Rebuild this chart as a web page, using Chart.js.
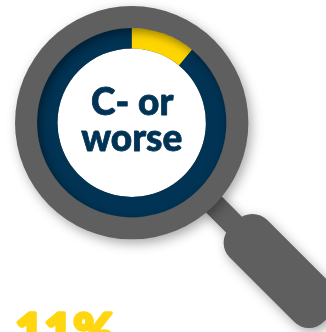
<!DOCTYPE html>
<html>
<head>
<meta charset="utf-8">
<style>
  html, body { margin: 0; padding: 0; background: #fff; overflow: hidden; }
  canvas { display: block; }
</style>
<script src="https://cdn.jsdelivr.net/npm/chart.js@4"></script>
</head>
<body>
<canvas id="gauge" width="326" height="332"></canvas>
<script>
const segments = ['C- or worse', 'Other grades'];
const shares = [11, 89];
const segmentColors = ['#FFD500', '#003354'];
const centerLines = ['C- or', 'worse'];
const headline = '11%';

const GREY = '#5F5F5F';
const NAVY = '#003354';
const YELLOW = '#FFD60F';
const FONT = '"Lato", sans-serif';

function softText(ctx, text, x, y, size, color, grow) {
  ctx.font = `900 ${size}px ${FONT}`;
  ctx.textAlign = 'center';
  ctx.textBaseline = 'alphabetic';
  ctx.lineJoin = 'round';
  ctx.lineWidth = grow;
  ctx.strokeStyle = color;
  ctx.fillStyle = color;
  ctx.strokeText(text, x, y);
  ctx.fillText(text, x, y);
}

const magnifier = {
  id: 'magnifier',
  beforeDatasetsDraw(chart) {
    const { ctx } = chart;
    const arc = chart.getDatasetMeta(0).data[0];
    const cx = arc.x, cy = arc.y, R = arc.outerRadius;
    const rimR = R * 1.232;

    ctx.save();
    ctx.shadowColor = 'rgba(0,0,0,0.34)';
    ctx.shadowBlur = 12;
    ctx.shadowOffsetX = 3;
    ctx.shadowOffsetY = 4;
    ctx.fillStyle = GREY;

    // Handle: neck plus grip, laid out along the 45 degree axis
    ctx.save();
    ctx.translate(cx, cy);
    ctx.rotate(Math.PI / 4);
    ctx.beginPath();
    ctx.rect(rimR - 6, -11.5, 44, 22.4);
    ctx.roundRect(rimR + 27, -27, 133, 53, 21);
    ctx.fill();
    ctx.restore();

    // Rim
    ctx.beginPath();
    ctx.arc(cx, cy, rimR, 0, Math.PI * 2);
    ctx.fill();
    ctx.restore();

    // Lens
    ctx.save();
    ctx.fillStyle = '#fff';
    ctx.beginPath();
    ctx.arc(cx, cy, arc.innerRadius, 0, Math.PI * 2);
    ctx.fill();
    ctx.restore();
  },
  afterDatasetsDraw(chart) {
    const { ctx } = chart;
    const arc = chart.getDatasetMeta(0).data[0];
    const cx = arc.x, cy = arc.y, R = arc.outerRadius, r = arc.innerRadius;

    // Rim casts a soft shade onto the upper left of the ring
    ctx.save();
    ctx.beginPath();
    ctx.arc(cx, cy, R, 0, Math.PI * 2);
    ctx.arc(cx, cy, r, 0, Math.PI * 2, true);
    ctx.clip();
    ctx.shadowColor = 'rgba(0,0,0,0.4)';
    ctx.shadowBlur = 10;
    ctx.shadowOffsetX = 3;
    ctx.shadowOffsetY = 4;
    ctx.fillStyle = GREY;
    ctx.beginPath();
    ctx.arc(cx, cy, R + 30, 0, Math.PI * 2);
    ctx.arc(cx, cy, R, 0, Math.PI * 2, true);
    ctx.fill();
    ctx.restore();

    ctx.save();
    softText(ctx, centerLines[0], cx + 0.5, cy - 8, 37, NAVY, 0.8);
    softText(ctx, centerLines[1], cx, cy + 28.5, 37, NAVY, 0.8);
    softText(ctx, headline, 65, 349, 50, YELLOW, 3.5);
    ctx.restore();
  }
};

new Chart(document.getElementById('gauge'), {
  type: 'doughnut',
  data: {
    labels: segments,
    datasets: [{
      data: shares,
      backgroundColor: segmentColors,
      borderWidth: 0
    }]
  },
  options: {
    responsive: false,
    animation: false,
    cutout: '78.4%',
    layout: { padding: { left: 37, top: 28, right: 99.6, bottom: 114.6 } },
    plugins: { legend: { display: false }, tooltip: { enabled: false } }
  },
  plugins: [magnifier]
});
</script>
</body>
</html>
